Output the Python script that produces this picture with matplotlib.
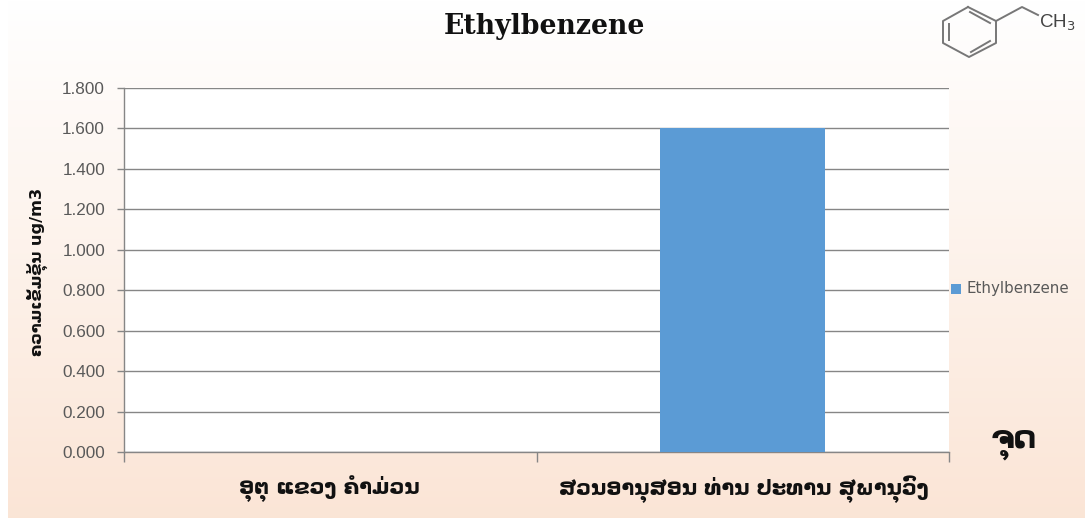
import numpy as np
import matplotlib
matplotlib.use("Agg")
import matplotlib.pyplot as plt
from matplotlib.lines import Line2D
from matplotlib.patches import Rectangle

title = "Ethylbenzene"
categories = ["ອຸຕຸ ແຂວງ ຄຳມ່ວນ", "ສວນອານຸສອນ ທ່ານ ປະທານ ສຸພານຸວົງ"]
values = [0.0, 1.6]
yticks = [0.0, 0.2, 0.4, 0.6, 0.8, 1.0, 1.2, 1.4, 1.6, 1.8]
ylabel = "ຄວາມເຂັ້ມຂຸ້ນ ug/m3"
xlabel = "ຈຸດ"

W, H = 1085, 520
fig = plt.figure(figsize=(W / 100, H / 100), dpi=100, facecolor="white")

def px(x0, y0, x1, y1):
    return [x0 / W, 1 - y1 / H, (x1 - x0) / W, (y1 - y0) / H]

# gradient panel
bg = fig.add_axes(px(8, 0, W, 518), zorder=0)
top = np.array([1.0, 1.0, 1.0])
bot = np.array([0.984, 0.898, 0.839])
t = np.linspace(0, 1, 256)[:, None, None]
bg.imshow(top + (bot - top) * t, aspect="auto", extent=(0, 1, 0, 1))
bg.axis("off")

ax = fig.add_axes(px(124, 88, 949, 452), zorder=1, facecolor="white")
x = np.arange(len(categories))
ax.bar(x, values, width=0.4, color="#5B9BD5", zorder=3, label=title)
ax.set_xlim(-0.5, 1.5)
ax.set_ylim(0, 1.8)
ax.set_yticks(yticks)
ax.set_yticklabels([f"{v:.3f}" for v in yticks], fontsize=12.3, color="#595959",
                    family="Liberation Sans")
ax.grid(axis="y", color="#868686", lw=1, zorder=1)
ax.set_xticks([-0.5, 0.5, 1.5])
ax.set_xticklabels([])
ax.tick_params(axis="y", length=5, color="#868686", width=1, pad=8.6)
ax.tick_params(axis="x", length=7.2, color="#868686", width=1)
for s in ("top", "right"):
    ax.spines[s].set_visible(False)
for s in ("left", "bottom"):
    ax.spines[s].set_color("#868686")
    ax.spines[s].set_linewidth(1)

def ftext(xp, yp, s, **kw):
    fig.text(xp / W, 1 - yp / H, s, **kw)

for xc, label in zip([329, 744], categories):
    ftext(xc, 489, label, ha="center", va="center", fontsize=15, weight="bold",
          color="#111111", family="DejaVu Sans")

ftext(544, 27, title, ha="center", va="center", fontsize=19.3, weight="bold",
      color="#111111", family="DejaVu Serif")
ftext(37, 272, ylabel, ha="center", va="center", rotation=90, fontsize=11.7, weight="bold",
      color="#111111", family="DejaVu Sans")
ftext(1014, 444, xlabel, ha="center", va="center", fontsize=23, weight="bold",
      color="#111111", family="DejaVu Sans")

# legend
fig.add_artist(Rectangle((951 / W, 1 - 294 / H), 10 / W, 10 / H, transform=fig.transFigure,
                         facecolor="#5B9BD5", edgecolor="none", zorder=5))
ftext(967, 289, title, ha="left", va="center", fontsize=10.8, color="#595959",
      family="DejaVu Sans")

# molecule sketch
mol = [
    [(968, 7), (996, 21), (996, 43), (969, 57), (943, 43), (943, 21), (968, 7)],
    [(996, 21), (1022, 7), (1038, 15)],
    [(970, 12), (990, 23)],
    [(949, 24), (949, 40)],
    [(971, 52), (990, 41)],
]
for seg in mol:
    xs, ys = zip(*seg)
    fig.add_artist(Line2D(np.array(xs) / W, 1 - np.array(ys) / H, color="#777777", lw=1.4,
                          transform=fig.transFigure, zorder=5))
ftext(1039, 23, "CH$_3$", ha="left", va="center", fontsize=13.5, color="#444444",
      family="Liberation Sans")

fig.savefig("out.png", dpi=100)
